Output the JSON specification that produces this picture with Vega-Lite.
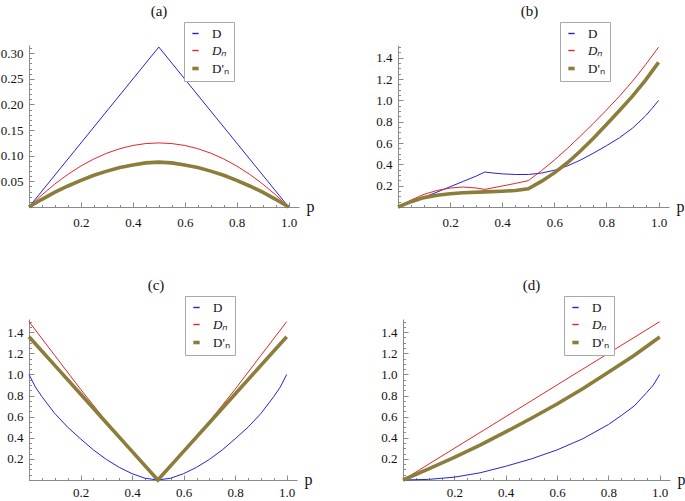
{
  "$schema": "https://vega.github.io/schema/vega-lite/v6.json",
  "padding": {"left": 0, "top": 3, "right": 0, "bottom": 0},
  "background": "white",
  "config": {
    "view": {"stroke": null},
    "font": "Liberation Serif",
    "axis": {"domainColor": "#8a8a8a", "tickColor": "#8a8a8a", "labelColor": "#111111", "labelFont": "Liberation Serif", "labelFontSize": 13, "grid": false, "labelFlush": false, "labelOverlap": false, "titleFont": "Liberation Serif", "titleFontSize": 16, "titleFontWeight": "normal", "titleColor": "#111111"},
    "title": {"font": "Liberation Serif", "fontSize": 15, "fontWeight": "normal", "color": "#111111", "offset": 3},
    "legend": {"labelFont": "Liberation Serif", "labelFontSize": 13, "labelColor": "#111111", "symbolType": "stroke", "symbolSize": 40, "strokeColor": "#a8a8a8", "fillColor": "white", "padding": 5, "rowPadding": 3, "labelOffset": 10, "title": null}
  },
  "datasets": {
    "all": [
      {"k":"a","s":"D","p":0,"v":0},{"k":"a","s":"D","p":0.25,"v":0.156},{"k":"a","s":"D","p":0.5,"v":0.312},{"k":"a","s":"D","p":0.75,"v":0.156},{"k":"a","s":"D","p":1,"v":0},
      {"k":"a","s":"DN","p":0,"v":0},{"k":"a","s":"DN","p":0.05,"v":0.02375},{"k":"a","s":"DN","p":0.1,"v":0.045},{"k":"a","s":"DN","p":0.15,"v":0.06375},{"k":"a","s":"DN","p":0.2,"v":0.08},{"k":"a","s":"DN","p":0.25,"v":0.09375},{"k":"a","s":"DN","p":0.3,"v":0.105},{"k":"a","s":"DN","p":0.35,"v":0.11375},{"k":"a","s":"DN","p":0.4,"v":0.12},{"k":"a","s":"DN","p":0.45,"v":0.12375},{"k":"a","s":"DN","p":0.5,"v":0.125},{"k":"a","s":"DN","p":0.55,"v":0.12375},{"k":"a","s":"DN","p":0.6,"v":0.12},{"k":"a","s":"DN","p":0.65,"v":0.11375},{"k":"a","s":"DN","p":0.7,"v":0.105},{"k":"a","s":"DN","p":0.75,"v":0.09375},{"k":"a","s":"DN","p":0.8,"v":0.08},{"k":"a","s":"DN","p":0.85,"v":0.06375},{"k":"a","s":"DN","p":0.9,"v":0.045},{"k":"a","s":"DN","p":0.95,"v":0.02375},{"k":"a","s":"DN","p":1,"v":0},
      {"k":"a","s":"DpN","p":0,"v":0},{"k":"a","s":"DpN","p":0.05,"v":0.015},{"k":"a","s":"DpN","p":0.1,"v":0.029},{"k":"a","s":"DpN","p":0.15,"v":0.041},{"k":"a","s":"DpN","p":0.2,"v":0.052},{"k":"a","s":"DpN","p":0.25,"v":0.062},{"k":"a","s":"DpN","p":0.3,"v":0.07},{"k":"a","s":"DpN","p":0.35,"v":0.077},{"k":"a","s":"DpN","p":0.4,"v":0.082},{"k":"a","s":"DpN","p":0.45,"v":0.086},{"k":"a","s":"DpN","p":0.5,"v":0.0875},{"k":"a","s":"DpN","p":0.55,"v":0.086},{"k":"a","s":"DpN","p":0.6,"v":0.082},{"k":"a","s":"DpN","p":0.65,"v":0.077},{"k":"a","s":"DpN","p":0.7,"v":0.07},{"k":"a","s":"DpN","p":0.75,"v":0.062},{"k":"a","s":"DpN","p":0.8,"v":0.052},{"k":"a","s":"DpN","p":0.85,"v":0.041},{"k":"a","s":"DpN","p":0.9,"v":0.029},{"k":"a","s":"DpN","p":0.95,"v":0.015},{"k":"a","s":"DpN","p":1,"v":0},

      {"k":"b","s":"D","p":0,"v":0},{"k":"b","s":"D","p":0.05,"v":0.045},{"k":"b","s":"D","p":0.1,"v":0.092},{"k":"b","s":"D","p":0.15,"v":0.14},{"k":"b","s":"D","p":0.2,"v":0.19},{"k":"b","s":"D","p":0.25,"v":0.24},{"k":"b","s":"D","p":0.3,"v":0.29},{"k":"b","s":"D","p":0.3333,"v":0.328},{"k":"b","s":"D","p":0.36,"v":0.32},{"k":"b","s":"D","p":0.4,"v":0.311},{"k":"b","s":"D","p":0.45,"v":0.305},{"k":"b","s":"D","p":0.5,"v":0.305},{"k":"b","s":"D","p":0.55,"v":0.318},{"k":"b","s":"D","p":0.6,"v":0.345},{"k":"b","s":"D","p":0.65,"v":0.385},{"k":"b","s":"D","p":0.7,"v":0.44},{"k":"b","s":"D","p":0.75,"v":0.505},{"k":"b","s":"D","p":0.8,"v":0.575},{"k":"b","s":"D","p":0.85,"v":0.65},{"k":"b","s":"D","p":0.9,"v":0.74},{"k":"b","s":"D","p":0.95,"v":0.855},{"k":"b","s":"D","p":0.975,"v":0.925},{"k":"b","s":"D","p":1,"v":1.0},
      {"k":"b","s":"DN","p":0,"v":0},{"k":"b","s":"DN","p":0.05,"v":0.065},{"k":"b","s":"DN","p":0.1,"v":0.119},{"k":"b","s":"DN","p":0.15,"v":0.155},{"k":"b","s":"DN","p":0.2,"v":0.178},{"k":"b","s":"DN","p":0.25,"v":0.1875},{"k":"b","s":"DN","p":0.3,"v":0.178},{"k":"b","s":"DN","p":0.3333,"v":0.165},{"k":"b","s":"DN","p":0.4,"v":0.197},{"k":"b","s":"DN","p":0.45,"v":0.221},{"k":"b","s":"DN","p":0.5,"v":0.247},{"k":"b","s":"DN","p":0.55,"v":0.34},{"k":"b","s":"DN","p":0.6,"v":0.44},{"k":"b","s":"DN","p":0.65,"v":0.55},{"k":"b","s":"DN","p":0.7,"v":0.665},{"k":"b","s":"DN","p":0.75,"v":0.785},{"k":"b","s":"DN","p":0.8,"v":0.91},{"k":"b","s":"DN","p":0.85,"v":1.04},{"k":"b","s":"DN","p":0.9,"v":1.18},{"k":"b","s":"DN","p":0.95,"v":1.335},{"k":"b","s":"DN","p":1,"v":1.5},
      {"k":"b","s":"DpN","p":0,"v":0},{"k":"b","s":"DpN","p":0.05,"v":0.05},{"k":"b","s":"DpN","p":0.1,"v":0.088},{"k":"b","s":"DpN","p":0.15,"v":0.11},{"k":"b","s":"DpN","p":0.2,"v":0.125},{"k":"b","s":"DpN","p":0.25,"v":0.134},{"k":"b","s":"DpN","p":0.3333,"v":0.142},{"k":"b","s":"DpN","p":0.4,"v":0.148},{"k":"b","s":"DpN","p":0.45,"v":0.155},{"k":"b","s":"DpN","p":0.5,"v":0.171},{"k":"b","s":"DpN","p":0.55,"v":0.24},{"k":"b","s":"DpN","p":0.6,"v":0.32},{"k":"b","s":"DpN","p":0.65,"v":0.415},{"k":"b","s":"DpN","p":0.7,"v":0.525},{"k":"b","s":"DpN","p":0.75,"v":0.645},{"k":"b","s":"DpN","p":0.8,"v":0.775},{"k":"b","s":"DpN","p":0.85,"v":0.905},{"k":"b","s":"DpN","p":0.9,"v":1.04},{"k":"b","s":"DpN","p":0.95,"v":1.19},{"k":"b","s":"DpN","p":1,"v":1.357},

      {"k":"c","s":"D","p":0,"v":1.0},{"k":"c","s":"D","p":0.025,"v":0.88},{"k":"c","s":"D","p":0.05,"v":0.79},{"k":"c","s":"D","p":0.1,"v":0.63},{"k":"c","s":"D","p":0.15,"v":0.5},{"k":"c","s":"D","p":0.2,"v":0.39},{"k":"c","s":"D","p":0.25,"v":0.285},{"k":"c","s":"D","p":0.3,"v":0.195},{"k":"c","s":"D","p":0.35,"v":0.12},{"k":"c","s":"D","p":0.4,"v":0.06},{"k":"c","s":"D","p":0.45,"v":0.017},{"k":"c","s":"D","p":0.5,"v":0},{"k":"c","s":"D","p":0.55,"v":0.017},{"k":"c","s":"D","p":0.6,"v":0.06},{"k":"c","s":"D","p":0.65,"v":0.12},{"k":"c","s":"D","p":0.7,"v":0.195},{"k":"c","s":"D","p":0.75,"v":0.285},{"k":"c","s":"D","p":0.8,"v":0.39},{"k":"c","s":"D","p":0.85,"v":0.5},{"k":"c","s":"D","p":0.9,"v":0.63},{"k":"c","s":"D","p":0.95,"v":0.79},{"k":"c","s":"D","p":0.975,"v":0.88},{"k":"c","s":"D","p":1,"v":1.0},
      {"k":"c","s":"DN","p":0,"v":1.5},{"k":"c","s":"DN","p":0.1,"v":1.18},{"k":"c","s":"DN","p":0.2,"v":0.86},{"k":"c","s":"DN","p":0.3,"v":0.555},{"k":"c","s":"DN","p":0.35,"v":0.415},{"k":"c","s":"DN","p":0.4,"v":0.275},{"k":"c","s":"DN","p":0.45,"v":0.137},{"k":"c","s":"DN","p":0.5,"v":0},{"k":"c","s":"DN","p":0.55,"v":0.137},{"k":"c","s":"DN","p":0.6,"v":0.275},{"k":"c","s":"DN","p":0.65,"v":0.415},{"k":"c","s":"DN","p":0.7,"v":0.555},{"k":"c","s":"DN","p":0.8,"v":0.86},{"k":"c","s":"DN","p":0.9,"v":1.18},{"k":"c","s":"DN","p":1,"v":1.5},
      {"k":"c","s":"DpN","p":0,"v":1.357},{"k":"c","s":"DpN","p":0.1,"v":1.086},{"k":"c","s":"DpN","p":0.2,"v":0.814},{"k":"c","s":"DpN","p":0.3,"v":0.543},{"k":"c","s":"DpN","p":0.4,"v":0.271},{"k":"c","s":"DpN","p":0.5,"v":0},{"k":"c","s":"DpN","p":0.6,"v":0.271},{"k":"c","s":"DpN","p":0.7,"v":0.543},{"k":"c","s":"DpN","p":0.8,"v":0.814},{"k":"c","s":"DpN","p":0.9,"v":1.086},{"k":"c","s":"DpN","p":1,"v":1.357},

      {"k":"d","s":"D","p":0,"v":0},{"k":"d","s":"D","p":0.1,"v":0.006},{"k":"d","s":"D","p":0.2,"v":0.027},{"k":"d","s":"D","p":0.3,"v":0.068},{"k":"d","s":"D","p":0.4,"v":0.13},{"k":"d","s":"D","p":0.5,"v":0.2},{"k":"d","s":"D","p":0.6,"v":0.285},{"k":"d","s":"D","p":0.7,"v":0.39},{"k":"d","s":"D","p":0.8,"v":0.525},{"k":"d","s":"D","p":0.85,"v":0.61},{"k":"d","s":"D","p":0.9,"v":0.7},{"k":"d","s":"D","p":0.95,"v":0.83},{"k":"d","s":"D","p":0.975,"v":0.9},{"k":"d","s":"D","p":1,"v":1.0},
      {"k":"d","s":"DN","p":0,"v":0},{"k":"d","s":"DN","p":0.5,"v":0.75},{"k":"d","s":"DN","p":1,"v":1.5},
      {"k":"d","s":"DpN","p":0,"v":0},{"k":"d","s":"DpN","p":0.1,"v":0.105},{"k":"d","s":"DpN","p":0.2,"v":0.215},{"k":"d","s":"DpN","p":0.3,"v":0.33},{"k":"d","s":"DpN","p":0.4,"v":0.455},{"k":"d","s":"DpN","p":0.5,"v":0.585},{"k":"d","s":"DpN","p":0.6,"v":0.72},{"k":"d","s":"DpN","p":0.7,"v":0.865},{"k":"d","s":"DpN","p":0.8,"v":1.02},{"k":"d","s":"DpN","p":0.9,"v":1.18},{"k":"d","s":"DpN","p":1,"v":1.355}
    ]
  },
  "spacing": 45,
  "resolve": {"scale": {"color": "independent", "x": "independent", "y": "independent"}, "legend": {"color": "independent"}},
  "vconcat": [
    {
      "spacing": 61,
      "resolve": {"scale": {"color": "independent", "x": "independent", "y": "independent"}, "legend": {"color": "independent"}},
      "hconcat": [
        {
          "width": 270, "height": 162,
          "title": {"text": "(a)", "dx": -5},
          "data": {"name": "all"},
          "transform": [{"filter": "datum.k == 'a'"}],
          "mark": {"type": "line"},
          "encoding": {
            "x": {"field": "p", "type": "quantitative", "scale": {"domain": [0, 1.04], "nice": false},
              "axis": {"values": [0,0.05,0.1,0.15,0.2,0.25,0.3,0.35,0.4,0.45,0.5,0.55,0.6,0.65,0.7,0.75,0.8,0.85,0.9,0.95,1],
                "labelExpr": "datum.value > 0.01 && abs(datum.value * 5 - round(datum.value * 5)) < 0.001 ? format(datum.value, '.1f') : ''",
                "tickSize": {"condition": {"test": "abs(datum.value * 5 - round(datum.value * 5)) < 0.001", "value": -5}, "value": -2.5},
                "labelPadding": 14, "title": "p", "titleX": 277, "titleY": 4, "titleAlign": "left", "titleBaseline": "alphabetic"}},
            "y": {"field": "v", "type": "quantitative", "scale": {"domain": [0, 0.316], "nice": false},
              "axis": {"values": [0,0.01,0.02,0.03,0.04,0.05,0.06,0.07,0.08,0.09,0.1,0.11,0.12,0.13,0.14,0.15,0.16,0.17,0.18,0.19,0.2,0.21,0.22,0.23,0.24,0.25,0.26,0.27,0.28,0.29,0.3,0.31],
                "labelExpr": "datum.value > 0.001 && abs(datum.value * 20 - round(datum.value * 20)) < 0.001 ? format(datum.value, '.2f') : ''",
                "tickSize": {"condition": {"test": "abs(datum.value * 20 - round(datum.value * 20)) < 0.001", "value": -5}, "value": -2.5},
                "labelPadding": 11, "title": null}},
            "color": {"field": "s", "type": "nominal", "scale": {"domain": ["D", "DN", "DpN"], "range": ["#2424d6", "#e42626", "#8b7d3a"]},
              "legend": {"orient": "none", "legendX": 155, "legendY": -23, "labelExpr": "datum.value == 'DN' ? 'Dₙ' : datum.value == 'DpN' ? \"D'ₙ\" : 'D'", "encode": {"labels": {"update": {"fontStyle": {"signal": "datum.value == 'DN' ? 'italic' : 'normal'"}}}, "symbols": {"update": {"strokeWidth": {"signal": "datum.value == 'DpN' ? 3.6 : 1.4"}}}}}},
            "strokeWidth": {"condition": {"test": "datum.s == 'DpN'", "value": 3.6}, "value": 1}
          }
        },
        {
          "width": 271, "height": 162,
          "title": {"text": "(b)", "dx": -4},
          "data": {"name": "all"},
          "transform": [{"filter": "datum.k == 'b'"}],
          "mark": {"type": "line"},
          "encoding": {
            "x": {"field": "p", "type": "quantitative", "scale": {"domain": [0, 1.04], "nice": false},
              "axis": {"values": [0,0.05,0.1,0.15,0.2,0.25,0.3,0.35,0.4,0.45,0.5,0.55,0.6,0.65,0.7,0.75,0.8,0.85,0.9,0.95,1],
                "labelExpr": "datum.value > 0.01 && abs(datum.value * 5 - round(datum.value * 5)) < 0.001 ? format(datum.value, '.1f') : ''",
                "tickSize": {"condition": {"test": "abs(datum.value * 5 - round(datum.value * 5)) < 0.001", "value": -5}, "value": -2.5},
                "labelPadding": 14, "title": "p", "titleX": 278, "titleY": 4, "titleAlign": "left", "titleBaseline": "alphabetic"}},
            "y": {"field": "v", "type": "quantitative", "scale": {"domain": [0, 1.52], "nice": false},
              "axis": {"values": [0,0.05,0.1,0.15,0.2,0.25,0.3,0.35,0.4,0.45,0.5,0.55,0.6,0.65,0.7,0.75,0.8,0.85,0.9,0.95,1,1.05,1.1,1.15,1.2,1.25,1.3,1.35,1.4,1.45,1.5],
                "labelExpr": "datum.value > 0.01 && abs(datum.value * 5 - round(datum.value * 5)) < 0.001 ? format(datum.value, '.1f') : ''",
                "tickSize": {"condition": {"test": "abs(datum.value * 5 - round(datum.value * 5)) < 0.001", "value": -5}, "value": -2.5},
                "labelPadding": 11, "title": null}},
            "color": {"field": "s", "type": "nominal", "scale": {"domain": ["D", "DN", "DpN"], "range": ["#2424d6", "#e42626", "#8b7d3a"]},
              "legend": {"orient": "none", "legendX": 162, "legendY": -23, "labelExpr": "datum.value == 'DN' ? 'Dₙ' : datum.value == 'DpN' ? \"D'ₙ\" : 'D'", "encode": {"labels": {"update": {"fontStyle": {"signal": "datum.value == 'DN' ? 'italic' : 'normal'"}}}, "symbols": {"update": {"strokeWidth": {"signal": "datum.value == 'DpN' ? 3.6 : 1.4"}}}}}},
            "strokeWidth": {"condition": {"test": "datum.s == 'DpN'", "value": 3.6}, "value": 1}
          }
        }
      ]
    },
    {
      "spacing": 68,
      "resolve": {"scale": {"color": "independent", "x": "independent", "y": "independent"}, "legend": {"color": "independent"}},
      "hconcat": [
        {
          "width": 268, "height": 161,
          "title": {"text": "(c)", "dx": -7},
          "data": {"name": "all"},
          "transform": [{"filter": "datum.k == 'c'"}],
          "mark": {"type": "line"},
          "encoding": {
            "x": {"field": "p", "type": "quantitative", "scale": {"domain": [0, 1.04], "nice": false},
              "axis": {"values": [0,0.05,0.1,0.15,0.2,0.25,0.3,0.35,0.4,0.45,0.5,0.55,0.6,0.65,0.7,0.75,0.8,0.85,0.9,0.95,1],
                "labelExpr": "datum.value > 0.01 && abs(datum.value * 5 - round(datum.value * 5)) < 0.001 ? format(datum.value, '.1f') : ''",
                "tickSize": {"condition": {"test": "abs(datum.value * 5 - round(datum.value * 5)) < 0.001", "value": -5}, "value": -2.5},
                "labelPadding": 11, "title": "p", "titleX": 275, "titleY": 4, "titleAlign": "left", "titleBaseline": "alphabetic"}},
            "y": {"field": "v", "type": "quantitative", "scale": {"domain": [0, 1.525], "nice": false},
              "axis": {"values": [0,0.05,0.1,0.15,0.2,0.25,0.3,0.35,0.4,0.45,0.5,0.55,0.6,0.65,0.7,0.75,0.8,0.85,0.9,0.95,1,1.05,1.1,1.15,1.2,1.25,1.3,1.35,1.4,1.45,1.5],
                "labelExpr": "datum.value > 0.01 && abs(datum.value * 5 - round(datum.value * 5)) < 0.001 ? format(datum.value, '.1f') : ''",
                "tickSize": {"condition": {"test": "abs(datum.value * 5 - round(datum.value * 5)) < 0.001", "value": -5}, "value": -2.5},
                "labelPadding": 11, "title": null}},
            "color": {"field": "s", "type": "nominal", "scale": {"domain": ["D", "DN", "DpN"], "range": ["#2424d6", "#e42626", "#8b7d3a"]},
              "legend": {"orient": "none", "legendX": 156, "legendY": -23, "labelExpr": "datum.value == 'DN' ? 'Dₙ' : datum.value == 'DpN' ? \"D'ₙ\" : 'D'", "encode": {"labels": {"update": {"fontStyle": {"signal": "datum.value == 'DN' ? 'italic' : 'normal'"}}}, "symbols": {"update": {"strokeWidth": {"signal": "datum.value == 'DpN' ? 3.6 : 1.4"}}}}}},
            "strokeWidth": {"condition": {"test": "datum.s == 'DpN'", "value": 3.6}, "value": 1}
          }
        },
        {
          "width": 267, "height": 161,
          "title": {"text": "(d)", "dx": -5},
          "data": {"name": "all"},
          "transform": [{"filter": "datum.k == 'd'"}],
          "mark": {"type": "line"},
          "encoding": {
            "x": {"field": "p", "type": "quantitative", "scale": {"domain": [0, 1.04], "nice": false},
              "axis": {"values": [0,0.05,0.1,0.15,0.2,0.25,0.3,0.35,0.4,0.45,0.5,0.55,0.6,0.65,0.7,0.75,0.8,0.85,0.9,0.95,1],
                "labelExpr": "datum.value > 0.01 && abs(datum.value * 5 - round(datum.value * 5)) < 0.001 ? format(datum.value, '.1f') : ''",
                "tickSize": {"condition": {"test": "abs(datum.value * 5 - round(datum.value * 5)) < 0.001", "value": -5}, "value": -2.5},
                "labelPadding": 11, "title": "p", "titleX": 274, "titleY": 4, "titleAlign": "left", "titleBaseline": "alphabetic"}},
            "y": {"field": "v", "type": "quantitative", "scale": {"domain": [0, 1.525], "nice": false},
              "axis": {"values": [0,0.05,0.1,0.15,0.2,0.25,0.3,0.35,0.4,0.45,0.5,0.55,0.6,0.65,0.7,0.75,0.8,0.85,0.9,0.95,1,1.05,1.1,1.15,1.2,1.25,1.3,1.35,1.4,1.45,1.5],
                "labelExpr": "datum.value > 0.01 && abs(datum.value * 5 - round(datum.value * 5)) < 0.001 ? format(datum.value, '.1f') : ''",
                "tickSize": {"condition": {"test": "abs(datum.value * 5 - round(datum.value * 5)) < 0.001", "value": -5}, "value": -2.5},
                "labelPadding": 11, "title": null}},
            "color": {"field": "s", "type": "nominal", "scale": {"domain": ["D", "DN", "DpN"], "range": ["#2424d6", "#e42626", "#8b7d3a"]},
              "legend": {"orient": "none", "legendX": 161, "legendY": -23, "labelExpr": "datum.value == 'DN' ? 'Dₙ' : datum.value == 'DpN' ? \"D'ₙ\" : 'D'", "encode": {"labels": {"update": {"fontStyle": {"signal": "datum.value == 'DN' ? 'italic' : 'normal'"}}}, "symbols": {"update": {"strokeWidth": {"signal": "datum.value == 'DpN' ? 3.6 : 1.4"}}}}}},
            "strokeWidth": {"condition": {"test": "datum.s == 'DpN'", "value": 3.6}, "value": 1}
          }
        }
      ]
    }
  ]
}
